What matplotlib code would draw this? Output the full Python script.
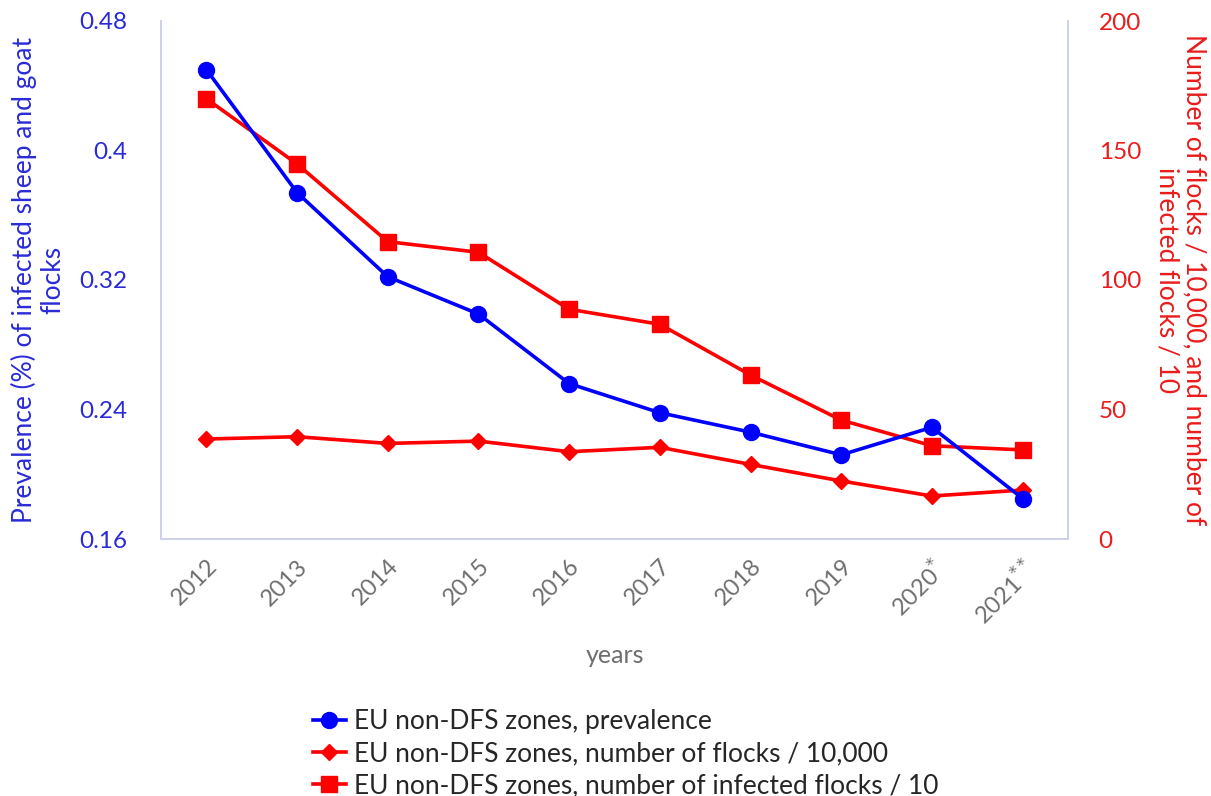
import matplotlib
matplotlib.use("Agg")
import matplotlib.pyplot as plt
from matplotlib.lines import Line2D

plt.rcParams['font.family'] = ['Lato', 'DejaVu Sans']

years = ['2012', '2013', '2014', '2015', '2016', '2017', '2018', '2019',
         '2020$^{*}$', '2021$^{**}$']
prevalence = [0.450, 0.374, 0.322, 0.299, 0.256, 0.238, 0.226, 0.212, 0.229, 0.185]
flocks_10000 = [38.6, 39.5, 36.9, 37.8, 33.7, 35.4, 28.8, 22.4, 16.6, 18.9]
infected_10 = [170.0, 144.8, 114.8, 110.7, 88.7, 82.9, 63.3, 45.9, 36.0, 34.4]

BLUE = '#0000ff'
RED = '#ff0000'
BLUE_TXT = '#2a2ad8'
RED_TXT = '#ea1c1c'
GRAY = '#6e6e6e'
SPINE = '#cdd0ea'

fig = plt.figure(figsize=(12.11, 7.96), dpi=100)
ax = fig.add_axes([161/1211, 1-539/796, (1068-161)/1211, (539-21)/796])
ax2 = ax.twinx()

x = list(range(len(years)))
ax.plot(x, prevalence, color=BLUE, lw=2.6, marker='o', ms=11.5, zorder=5)
ax2.plot(x, flocks_10000, color=RED, lw=2.6, marker='D', ms=8.5, zorder=4)
ax2.plot(x, infected_10, color=RED, lw=2.6, marker='s', ms=11.5, zorder=4)
ax.set_zorder(ax2.get_zorder() + 1)
ax.patch.set_visible(False)

ax.set_xlim(-0.5, 9.5)
ax.set_ylim(0.16, 0.48)
ax.set_yticks([0.16, 0.24, 0.32, 0.40, 0.48])
ax.set_yticklabels(['0.16', '0.24', '0.32', '0.4', '0.48'])
ax2.set_ylim(0, 200)
ax2.set_yticks([0, 50, 100, 150, 200])

ax.set_xticks(x)
ax.set_xticklabels(years, rotation=45, ha='right', rotation_mode='anchor',
                   color=GRAY, fontsize=17)
ax.tick_params(axis='x', length=0, pad=12)
ax.tick_params(axis='y', length=0, pad=24, labelcolor=BLUE_TXT, labelsize=17.5)
ax2.tick_params(axis='y', length=0, pad=22, labelcolor=RED_TXT, labelsize=17.5)
ax2.tick_params(axis='x', length=0)

for a in (ax, ax2):
    a.spines['top'].set_visible(False)
    for s in ('left', 'right', 'bottom'):
        a.spines[s].set_color(SPINE)
        a.spines[s].set_linewidth(1.2)

ax.set_ylabel('Prevalence (%) of infected sheep and goat\nflocks', color=BLUE_TXT,
              fontsize=19, labelpad=10, linespacing=1.2)
ax2.set_ylabel('Number of flocks / 10,000, and number of\ninfected flocks / 10',
               color=RED_TXT, fontsize=19, rotation=270, va='bottom',
               labelpad=10, linespacing=1.1)
ax.set_xlabel('years', color=GRAY, fontsize=18, labelpad=11)

handles = [
    Line2D([], [], color=BLUE, lw=2.6, marker='o', ms=11.5),
    Line2D([], [], color=RED, lw=2.6, marker='D', ms=8.5),
    Line2D([], [], color=RED, lw=2.6, marker='s', ms=11.5),
]
labels = ['EU non-DFS zones, prevalence',
          'EU non-DFS zones, number of flocks / 10,000',
          'EU non-DFS zones, number of infected flocks / 10']
fig.legend(handles, labels, loc='upper left', bbox_to_anchor=(313/1211, 1-709/796),
           frameon=False, fontsize=19, handlelength=1.25, handletextpad=0.3,
           labelspacing=0.27, labelcolor='#262626', borderaxespad=0, borderpad=0)

fig.savefig('out.png', dpi=100)
